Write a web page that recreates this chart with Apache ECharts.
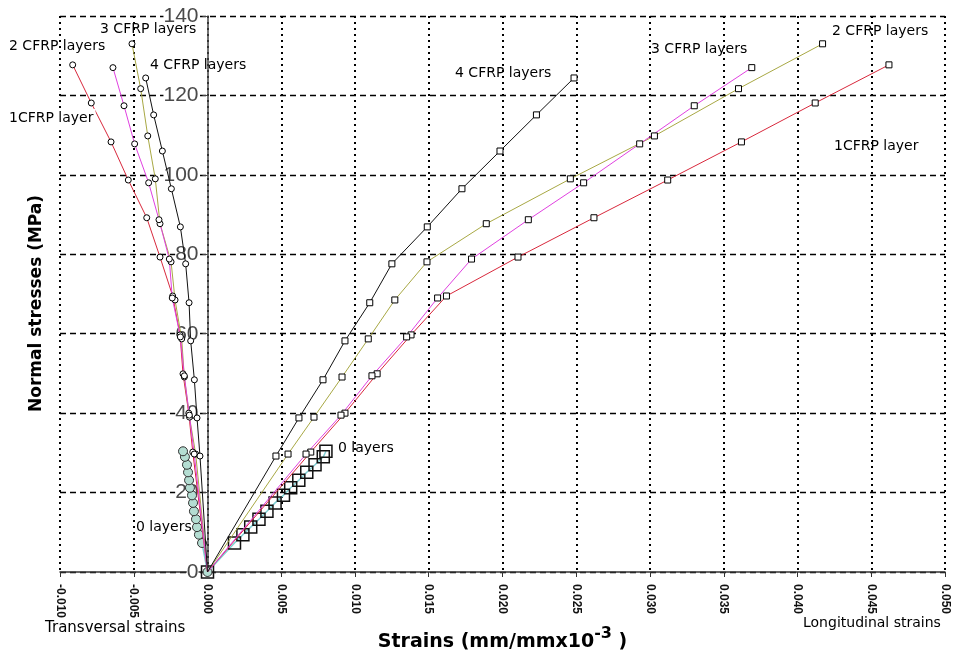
<!DOCTYPE html>
<html>
<head>
<meta charset="utf-8">
<script src="https://cdn.jsdelivr.net/npm/echarts@6/dist/echarts.min.js"></script>
<style>
html,body{margin:0;padding:0;background:#fff;}
#chart{width:959px;height:654px;}
</style>
</head>
<body>
<div id="chart"></div>
<script>
// ---- data (strain in mm/mm, stress in MPa) ----
const xTicks = [-0.010, -0.005, 0.000, 0.005, 0.010, 0.015, 0.020, 0.025, 0.030, 0.035, 0.040, 0.045, 0.050];
const yTicks = [0, 20, 40, 60, 80, 100, 120, 140];

const stress0 = [0, 7.3, 9.4, 11.3, 13.3, 15.3, 17.4, 19.3, 21.2, 23.1, 25.1, 27.0, 29.0, 30.4];
const long0   = [0, 0.00183, 0.00240, 0.00293, 0.00349, 0.00403, 0.00458, 0.00515, 0.00564, 0.00619, 0.00673, 0.00729, 0.00785, 0.00803];
const trans0  = [0, -0.00037, -0.00058, -0.00071, -0.00078, -0.00092, -0.00098, -0.00105, -0.00119, -0.00125, -0.00132, -0.00139, -0.00153, -0.00166];

const stress1 = [0, 30.2, 40.0, 49.9, 59.7, 69.5, 79.3, 89.2, 98.7, 108.3, 118.1, 127.7];
const long1   = [0, 0.0070, 0.00932, 0.0115, 0.0138, 0.0162, 0.02105, 0.0262, 0.0312, 0.0362, 0.0412, 0.0462];
const trans1  = [0, -0.0010, -0.00127, -0.00166, -0.00186, -0.00236, -0.00322, -0.00412, -0.00537, -0.00654, -0.00788, -0.00914];

const stress2 = [0, 29.7, 39.0, 49.1, 58.7, 68.5, 78.1, 87.7, 99.0, 109.8, 121.7, 133.0];
const long2   = [0, 0.00546, 0.00722, 0.00912, 0.0109, 0.0127, 0.01488, 0.0189, 0.0246, 0.0303, 0.0360, 0.0417];
const trans2  = [0, -0.0008, -0.00122, -0.00157, -0.00175, -0.0022, -0.00247, -0.00322, -0.00354, -0.00405, -0.00453, -0.00512];

const stress3 = [0, 29.7, 39.5, 49.4, 59.2, 69.0, 78.8, 88.7, 98.0, 107.8, 117.4, 127.0];
const long3   = [0, 0.00668, 0.00905, 0.01115, 0.0135, 0.0156, 0.0179, 0.02175, 0.0255, 0.0293, 0.0330, 0.0369];
const trans3  = [0, -0.0009, -0.00123, -0.00157, -0.00184, -0.00239, -0.00259, -0.00329, -0.00399, -0.00494, -0.00566, -0.00641];

const stress4 = [0, 29.2, 38.8, 48.4, 58.2, 67.8, 77.6, 86.9, 96.5, 106.0, 115.1, 124.4];
const long4   = [0, 0.00464, 0.0062, 0.00783, 0.00932, 0.0110, 0.0125, 0.0149, 0.01725, 0.01983, 0.0223, 0.02485];
const trans4  = [0, -0.00051, -0.00071, -0.00089, -0.00114, -0.00125, -0.00148, -0.00184, -0.00245, -0.00306, -0.00365, -0.00419];

// ---- build ----
function pts(xs, ys, hideFirst) {
  return xs.map((x, i) => (hideFirst && i === 0) ? { value: [x, ys[i]], symbol: 'none' } : [x, ys[i]]);
}
function layerSeries(name, xs, ys, color, symbol) {
  return {
    name: name, type: 'line', data: pts(xs, ys, true),
    symbol: symbol, symbolSize: 6, showAllSymbol: true,
    lineStyle: { color: color, width: 1 },
    itemStyle: { color: '#fff', borderColor: '#000', borderWidth: 1 },
    z: 3, animation: false
  };
}
const FONT = 'Liberation Sans, Arial, sans-serif';
const WFONT = 'DejaVu Sans, sans-serif';
function txt(s, left, top, size, bg) {
  const style = { text: s, fill: '#000', font: (size || 14) + 'px ' + WFONT };
  if (bg) { style.backgroundColor = '#fff'; style.padding = [2, 2, 2, 1]; }
  return { type: 'text', left: left, top: top, z: 20, style: style };
}

const chart = echarts.init(document.getElementById('chart'));
const grid = { left: 60, right: 14, top: 16, bottom: 82, containLabel: false, outerBoundsMode: 'none' };
const xMin = -0.010, xMax = 0.050;
const plotW = 959 - grid.left - grid.right;
const yAxisOffset = -plotW * (0 - xMin) / (xMax - xMin);

chart.setOption({
  animation: false,
  backgroundColor: '#fff',
  grid: grid,
  xAxis: {
    type: 'value', min: xMin, max: xMax, interval: 0.005,
    axisLine: { onZero: true, lineStyle: { color: '#333', width: 1.5 } },
    axisTick: { show: true, length: 5, lineStyle: { color: '#333' } },
    axisLabel: { rotate: -90, margin: 12, fontSize: 12, fontWeight: 'bold', color: '#111', fontFamily: FONT,
      formatter: v => xTicks.reduce((b, t) => Math.abs(t - v) < Math.abs(b - v) ? t : b).toFixed(3) },
    splitLine: { show: true, lineStyle: { color: '#000', width: 2, type: [2, 4] } },
    name: '{m|Strains (mm/mmx10}{s|-3}{m| )}', nameLocation: 'middle', nameGap: 43,
    nameTextStyle: { rich: {
      m: { fontSize: 19, fontWeight: 'bold', fontFamily: WFONT, color: '#000', padding: [16, 0, 0, 0] },
      s: { fontSize: 16, fontWeight: 'bold', fontFamily: WFONT, color: '#000', padding: [0, 0, 0, 0] } } }
  },
  yAxis: {
    type: 'value', min: 0, max: 140, interval: 20, position: 'left', offset: yAxisOffset,
    axisLine: { onZero: false, lineStyle: { color: '#444', width: 1.5 } },
    axisTick: { show: true, length: 5, lineStyle: { color: '#444' } },
    axisLabel: { fontSize: 21, color: '#4a4a4a', fontFamily: FONT, margin: 9, backgroundColor: '#fff',
      formatter: v => String(yTicks.reduce((b, t) => Math.abs(t - v) < Math.abs(b - v) ? t : b)) },
    splitLine: { show: true, lineStyle: { color: '#000', width: 1.3, type: [6, 4] } }
  },
  graphic: [
    { type: 'text', x: 28, y: 412, rotation: Math.PI / 2, z: 20,
      style: { text: 'Normal stresses (MPa)', fill: '#000', font: 'bold 17px ' + WFONT } },
    txt('3 CFRP layers', 100, 22),
    txt('2 CFRP layers', 9, 39),
    txt('4 CFRP layers', 150, 58),
    txt('1CFRP layer', 8, 109, 14, true),
    txt('0 layers', 136, 520),
    txt('4 CFRP layers', 455, 66),
    txt('3 CFRP layers', 651, 42),
    txt('2 CFRP layers', 832, 24),
    txt('1CFRP layer', 834, 139),
    txt('0 layers', 338, 441),
    txt('Transversal strains', 45, 621, 15),
    txt('Longitudinal strains', 803, 616, 14)
  ],
  series: [
    { name: '0 layers long', type: 'line', data: pts(long0, stress0, false),
      symbol: 'rect', symbolSize: 12, showAllSymbol: true,
      lineStyle: { color: '#7fd0d4', width: 1.5 },
      itemStyle: { color: 'rgba(255,255,255,0)', borderColor: '#111', borderWidth: 1.5 }, z: 2 },
    { name: '0 layers trans', type: 'line', data: pts(trans0, stress0, false),
      symbol: 'circle', symbolSize: 9, showAllSymbol: true,
      lineStyle: { color: '#7fd0d4', width: 1.5 },
      itemStyle: { color: '#b4ddd2', borderColor: '#333', borderWidth: 1 }, z: 2 },
    layerSeries('1 long', long1, stress1, '#d8283c', 'rect'),
    layerSeries('1 trans', trans1, stress1, '#d8283c', 'circle'),
    layerSeries('2 long', long2, stress2, '#a8a844', 'rect'),
    layerSeries('2 trans', trans2, stress2, '#a8a844', 'circle'),
    layerSeries('3 long', long3, stress3, '#e040e0', 'rect'),
    layerSeries('3 trans', trans3, stress3, '#e040e0', 'circle'),
    layerSeries('4 long', long4, stress4, '#111', 'rect'),
    layerSeries('4 trans', trans4, stress4, '#111', 'circle')
  ]
});
</script>
</body>
</html>
